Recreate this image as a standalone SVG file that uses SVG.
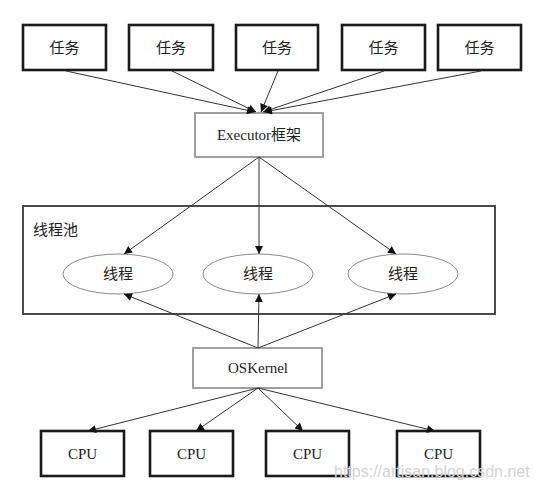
<svg xmlns="http://www.w3.org/2000/svg" width="536" height="490" viewBox="0 0 536 490">
<defs>
<style>
.box{fill:#fff;stroke:#1a1a1a;stroke-width:2.6}
.gbox{fill:#fff;stroke:#a0a0a0;stroke-width:2}
.ell{fill:#fff;stroke:#8a8a8a;stroke-width:1}
.pool{fill:none;stroke:#4a4a4a;stroke-width:2}
.t{font-family:"Liberation Serif","Noto Sans CJK SC",serif;font-size:15px;fill:#222;text-anchor:middle;dominant-baseline:central}
.c{fill:none;stroke:#333;stroke-width:1;marker-end:url(#ah)}
.wm{font-family:"Liberation Sans",Arial,sans-serif;font-size:16px;fill:#d4d4d4}
</style>
<marker id="ah" viewBox="0 0 10 10" refX="10" refY="5" markerWidth="9" markerHeight="8" markerUnits="userSpaceOnUse" orient="auto">
<path d="M0,0 L10,5 L0,10 z" fill="#111"/>
</marker>
</defs>
<g id="pool"><rect class="pool" x="23" y="206" width="472" height="108"/><text x="33" y="230" font-family="Liberation Serif,'Noto Sans CJK SC',serif" font-size="15" fill="#222" dominant-baseline="central">线程池</text></g>
<g id="task1"><rect class="box" x="23" y="25" width="83" height="45"/><text class="t" x="64.5" y="47.5">任务</text></g>
<g id="task2"><rect class="box" x="129" y="25" width="84" height="45"/><text class="t" x="171" y="47.5">任务</text></g>
<g id="task3"><rect class="box" x="236" y="25" width="82" height="45"/><text class="t" x="277" y="47.5">任务</text></g>
<g id="task4"><rect class="box" x="342" y="25" width="83" height="45"/><text class="t" x="383.5" y="47.5">任务</text></g>
<g id="task5"><rect class="box" x="438" y="25" width="83" height="45"/><text class="t" x="479.5" y="47.5">任务</text></g>
<g id="executor"><rect class="gbox" x="195" y="113" width="128" height="44"/><text class="t" x="259" y="135">Executor框架</text></g>
<g id="thread1"><ellipse class="ell" cx="118" cy="274" rx="55" ry="20"/><text class="t" x="118" y="274">线程</text></g>
<g id="thread2"><ellipse class="ell" cx="258" cy="274" rx="55" ry="20"/><text class="t" x="258" y="274">线程</text></g>
<g id="thread3"><ellipse class="ell" cx="403" cy="274" rx="55" ry="20"/><text class="t" x="403" y="274">线程</text></g>
<g id="oskernel"><rect class="gbox" x="193" y="348" width="129" height="40"/><text class="t" x="258" y="368">OSKernel</text></g>
<g id="cpu1"><rect class="box" x="41" y="431" width="83" height="45"/><text class="t" x="82.5" y="453.5">CPU</text></g>
<g id="cpu2"><rect class="box" x="150" y="431" width="83" height="45"/><text class="t" x="191.5" y="453.5">CPU</text></g>
<g id="cpu3"><rect class="box" x="266" y="431" width="83" height="45"/><text class="t" x="307.5" y="453.5">CPU</text></g>
<g id="cpu4"><rect class="box" x="397" y="431" width="83" height="45"/><text class="t" x="438.5" y="453.5">CPU</text></g>
<g id="connectors">
<path class="c" d="M66,71 L255,112"/>
<path class="c" d="M172,71 L256,112"/>
<path class="c" d="M278,71 L261,112"/>
<path class="c" d="M384,71 L263,112"/>
<path class="c" d="M481,71 L264,112"/>
<path class="c" d="M259,157 L124,254"/>
<path class="c" d="M259,157 L259,254"/>
<path class="c" d="M259,157 L396,254"/>
<path class="c" d="M258,348 L124,294"/>
<path class="c" d="M258,348 L259,294"/>
<path class="c" d="M258,348 L396,294"/>
<path class="c" d="M258,388 L88,431"/>
<path class="c" d="M258,388 L196,431"/>
<path class="c" d="M258,388 L303,431"/>
<path class="c" d="M258,388 L435,431"/>
</g>
<text class="wm" x="334" y="477">https://artisan.blog.csdn.net</text>
</svg>
